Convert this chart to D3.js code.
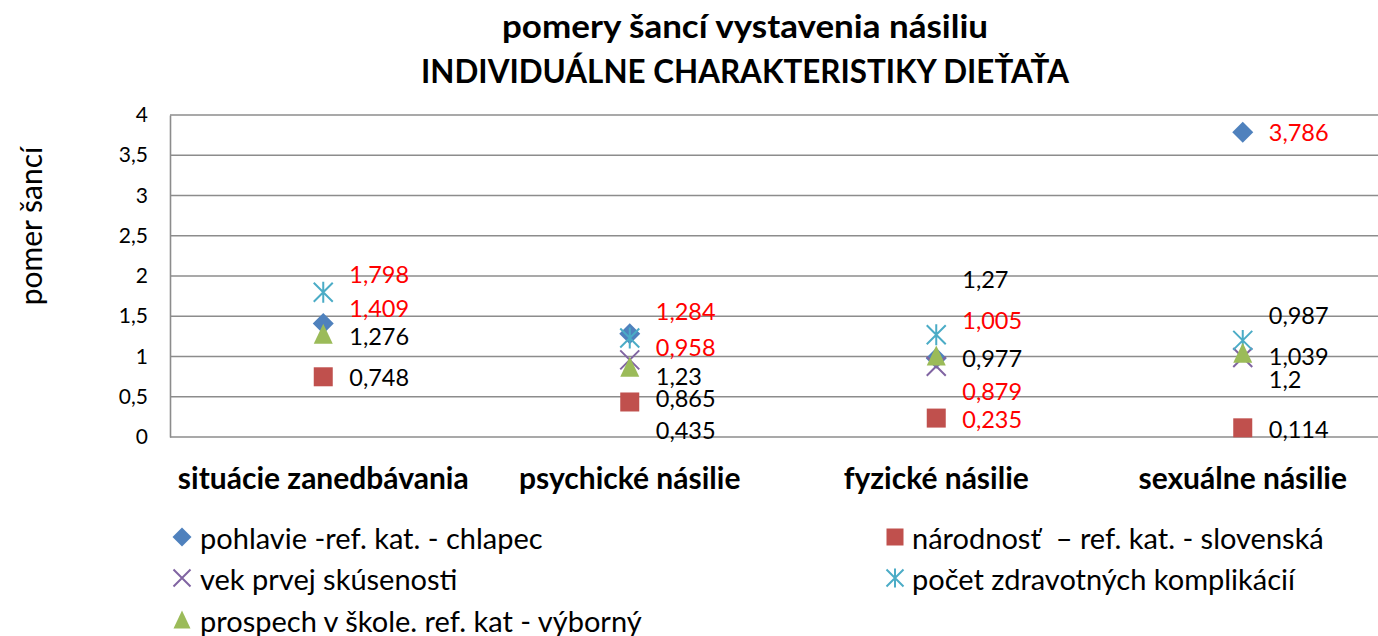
<!DOCTYPE html>
<html>
<head>
<meta charset="utf-8">
<script src="https://cdn.jsdelivr.net/npm/d3@7"></script>
<style>
  html, body { margin: 0; padding: 0; background: #fff; }
  svg { display: block; }
  text { font-family: Lato, "Open Sans", sans-serif; }
</style>
</head>
<body>
<svg id="chart" width="1378" height="636"></svg>
<script>
// ---------- data ----------
const titleLines = ["pomery šancí vystavenia násiliu", "INDIVIDUÁLNE CHARAKTERISTIKY DIEŤAŤA"];
const yAxisTitle = "pomer šancí";
const categories = ["situácie zanedbávania", "psychické násilie", "fyzické násilie", "sexuálne násilie"];
const yTicks = [0, 0.5, 1, 1.5, 2, 2.5, 3, 3.5, 4];

const seriesNames = [
  "pohlavie -ref. kat. - chlapec",
  "národnosť  – ref. kat. - slovenská",
  "vek prvej skúsenosti",
  "počet zdravotných komplikácií",
  "prospech v škole. ref. kat - výborný"
];
const pohlavie   = [1.409, 1.284, 0.977, 3.786];
const narodnost  = [0.748, 0.435, 0.235, 0.114];
const vek        = [null, 0.958, 0.879, 0.987];
const pocet      = [1.798, 1.23, 1.27, 1.2];
const prospech   = [1.276, 0.865, 1.005, 1.039];

// significance (label shown in red)
const pohlavieSig  = [true, true, false, true];
const narodnostSig = [false, false, true, false];
const vekSig       = [false, true, true, false];
const pocetSig     = [true, false, false, false];
const prospechSig  = [false, false, true, false];

// ---------- layout / style ----------
const seriesValues = [pohlavie, narodnost, vek, pocet, prospech];
const seriesSig = [pohlavieSig, narodnostSig, vekSig, pocetSig, prospechSig];
const seriesColors = ["#4F81BD", "#C0504D", "#8064A2", "#4BACC6", "#9BBB59"];
const seriesShapes = ["diamond", "square", "x", "star", "triangle"];
// manual label offsets (pixels, vertical) as placed in the original chart
const labelDy = [
  [-16, -23, 0, 0],
  [0, 28, 1, 1],
  [0, -13, 25, -43],
  [-18, 38, -56, 39],
  [2, 31, -36, 3]
];

const svg = d3.select("#chart");
const plot = { left: 170, right: 1396, top: 115, bottom: 437 };

const x = d3.scaleBand().domain(categories).range([plot.left, plot.right]).padding(0);
const y = d3.scaleLinear().domain([0, 4]).range([plot.bottom, plot.top]);

const gridColor = "#8c8c8c";

// gridlines
svg.append("g").selectAll("line").data(yTicks).join("line")
  .attr("x1", plot.left).attr("x2", plot.right)
  .attr("y1", d => y(d)).attr("y2", d => y(d))
  .attr("stroke", gridColor).attr("stroke-width", 1.6);

// y axis
const yAxis = d3.axisLeft(y).tickValues(yTicks).tickSize(0).tickPadding(22)
  .tickFormat(d => String(d).replace(".", ","));
const gy = svg.append("g").attr("transform", `translate(${plot.left},0)`).call(yAxis);
gy.select(".domain").attr("stroke", gridColor).attr("stroke-width", 1.6);
gy.selectAll("text").attr("font-size", 21).attr("fill", "#000")
  .attr("font-family", "Lato, sans-serif");

// x axis labels
const xAxis = d3.axisBottom(x).tickSize(0).tickPadding(30);
const gx = svg.append("g").attr("transform", `translate(0,${plot.bottom})`).call(xAxis);
gx.select(".domain").remove();
gx.selectAll("text").attr("font-size", 30).attr("font-weight", "bold").attr("fill", "#000")
  .attr("font-family", "Lato, sans-serif").attr("dy", "0.35em").attr("y", 41);

// titles
const titleWidths = [486, 648];
const titleBase = [37.5, 83];
titleLines.forEach((t, i) => {
  svg.append("text").attr("x", 745).attr("y", titleBase[i]).attr("text-anchor", "middle")
    .attr("font-size", 33).attr("font-weight", "bold")
    .attr("textLength", titleWidths[i]).attr("lengthAdjust", "spacingAndGlyphs")
    .text(t);
});

svg.append("text").attr("transform", `translate(30,226) rotate(-90)`)
  .attr("text-anchor", "middle").attr("dominant-baseline", "central")
  .attr("font-size", 30).text(yAxisTitle);

// marker drawing
function drawMarker(g, shape, color, cx, cy, s) {
  const h = s / 2;
  if (shape === "diamond") {
    g.append("path").attr("d", `M${cx},${cy - h - 1}L${cx + h + 1},${cy}L${cx},${cy + h + 1}L${cx - h - 1},${cy}Z`)
      .attr("fill", color);
  } else if (shape === "square") {
    g.append("rect").attr("x", cx - h).attr("y", cy - h).attr("width", s).attr("height", s)
      .attr("fill", color);
  } else if (shape === "triangle") {
    g.append("path").attr("d", `M${cx},${cy - h - 1}L${cx + h},${cy + h}L${cx - h},${cy + h}Z`)
      .attr("fill", color);
  } else if (shape === "x") {
    g.append("path").attr("d", `M${cx - h},${cy - h}L${cx + h},${cy + h}M${cx - h},${cy + h}L${cx + h},${cy - h}`)
      .attr("stroke", color).attr("stroke-width", 2).attr("fill", "none");
  } else if (shape === "star") {
    g.append("path").attr("d", `M${cx - h},${cy - h}L${cx + h},${cy + h}M${cx - h},${cy + h}L${cx + h},${cy - h}M${cx},${cy - h - 1}L${cx},${cy + h + 1}`)
      .attr("stroke", color).attr("stroke-width", 2).attr("fill", "none");
  }
}

const fmt = v => String(v).replace(".", ",");
const markSize = 19;

seriesValues.forEach((vals, si) => {
  const g = svg.append("g").attr("class", "series");
  vals.forEach((v, ci) => {
    if (v == null) return;
    const cx = x(categories[ci]) + x.bandwidth() / 2;
    drawMarker(g, seriesShapes[si], seriesColors[si], cx, y(v), markSize);
  });
});
seriesValues.forEach((vals, si) => {
  const g = svg.append("g").attr("class", "labels");
  vals.forEach((v, ci) => {
    if (v == null) return;
    const cx = x(categories[ci]) + x.bandwidth() / 2;
    g.append("text").attr("x", cx + 26).attr("y", y(v) + labelDy[si][ci])
      .attr("dominant-baseline", "central").attr("font-size", 23.5)
      .attr("fill", seriesSig[si][ci] ? "#FF0000" : "#000")
      .text(fmt(v));
  });
});

// legend
const legendPos = [
  { mx: 182, tx: 200, cy: 537 },
  { mx: 895, tx: 912, cy: 537 },
  { mx: 182, tx: 200, cy: 578 },
  { mx: 895, tx: 912, cy: 578 },
  { mx: 182, tx: 200, cy: 620 }
];
const lg = svg.append("g").attr("class", "legend");
seriesNames.forEach((name, si) => {
  const p = legendPos[si];
  drawMarker(lg, seriesShapes[si], seriesColors[si], p.mx, p.cy, 17);
  lg.append("text").attr("x", p.tx).attr("y", p.cy).attr("dominant-baseline", "central")
    .attr("font-size", 29).style("white-space", "pre").text(name);
});
</script>
</body>
</html>
